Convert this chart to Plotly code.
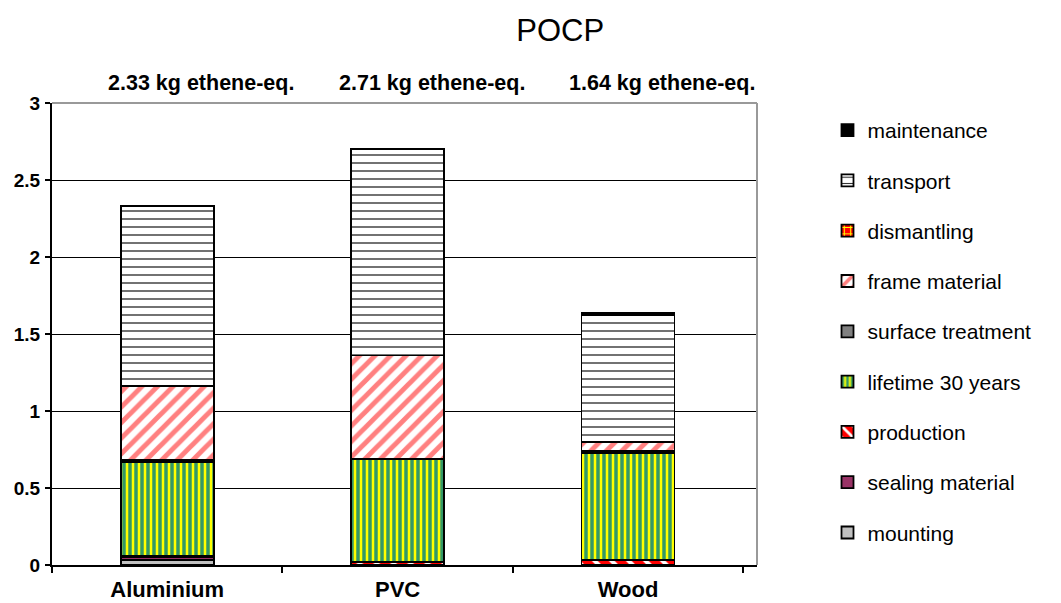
import plotly.graph_objects as go

categories = ["Aluminium", "PVC", "Wood"]
totals_text = ["2.33 kg ethene-eq.", "2.71 kg ethene-eq.", "1.64 kg ethene-eq."]

# stacked from bottom to top
mounting = [0.03, 0.0, 0.0]
sealing_material = [0.02, 0.0, 0.0]
production = [0.01, 0.02, 0.035]
lifetime_30_years = [0.61, 0.67, 0.69]
surface_treatment = [0.01, 0.0, 0.015]
frame_material = [0.48, 0.67, 0.06]
dismantling = [0.0, 0.0, 0.0]
transport = [1.17, 1.34, 0.82]
maintenance = [0.0, 0.005, 0.02]

series = [
    ("mounting", mounting, dict(color="#C0C0C0")),
    ("sealing material", sealing_material, dict(color="#993366")),
    ("production", production, dict(color="#FF0000",
        pattern=dict(shape="\\", fgcolor="#FFFFFF", bgcolor="#FF0000", size=12, solidity=0.35,
                     fillmode="overlay", fgopacity=1))),
    ("lifetime 30 years", lifetime_30_years, dict(color="#339966",
        pattern=dict(shape="|", fgcolor="#FFFF00", bgcolor="#339966", size=6, solidity=0.42,
                     fillmode="overlay", fgopacity=1))),
    ("surface treatment", surface_treatment, dict(color="#808080")),
    ("frame material", frame_material, dict(color="#FFFFFF",
        pattern=dict(shape="/", fgcolor="#FF8080", bgcolor="#FFFFFF", size=11, solidity=0.45,
                     fillmode="overlay", fgopacity=1))),
    ("dismantling", dismantling, dict(color="#FF0000",
        pattern=dict(shape="+", fgcolor="#FFFF00", bgcolor="#FF0000", size=8, solidity=0.3,
                     fillmode="overlay", fgopacity=1))),
    ("transport", transport, dict(color="#FFFFFF",
        pattern=dict(shape="-", fgcolor="#222222", bgcolor="#FFFFFF", size=8, solidity=0.16,
                     fillmode="overlay", fgopacity=1))),
    ("maintenance", maintenance, dict(color="#000000")),
]

fig = go.Figure()
n = len(series)
for i, (name, vals, mk) in enumerate(series):
    mk = dict(mk)
    mk["line"] = dict(color="#000000", width=1.8)
    fig.add_trace(go.Bar(
        name=name, x=categories, y=vals, marker=mk,
        legendgroup=name, legendrank=100 + (n - i), hoverinfo="x+y+name",
    ))

for cat, txt in zip(categories, totals_text):
    fig.add_annotation(x=cat, y=1.043, xref="x", yref="paper", text="<b>%s</b>" % txt,
                       showarrow=False, xshift=34, yanchor="middle",
                       font=dict(family="Liberation Sans Narrow, Liberation Sans, Arial", size=21.5, color="#000"))

fig.add_shape(type="line", xref="paper", yref="paper", x0=0, x1=1, y0=1, y1=1,
              line=dict(color="#999999", width=2))
fig.add_shape(type="line", xref="paper", yref="paper", x0=1, x1=1, y0=0, y1=1,
              line=dict(color="#999999", width=2))

fig.update_layout(
    width=1061, height=603,
    margin=dict(l=52, r=304, t=103, b=38),
    paper_bgcolor="#FFFFFF", plot_bgcolor="#FFFFFF",
    barmode="stack", bargap=0.596,
    font=dict(family="Liberation Sans, Arial", color="#000000"),
    title=dict(text="POCP", x=0.528, xanchor="center", y=0.95, yanchor="middle", yref="container",
               font=dict(size=31, family="Liberation Sans, Arial", color="#000")),
    xaxis=dict(showline=True, linecolor="#000000", linewidth=2, ticks="outside", tickson="boundaries",
               ticklen=6, tickcolor="#000", tickwidth=1.5, automargin=False, ticklabelstandoff=4,
               tickfont=dict(size=22, family="Liberation Sans, Arial", color="#000"),
               tickprefix="<b>", ticksuffix="</b>", showgrid=False),
    yaxis=dict(range=[0, 3], dtick=0.5, showline=True, linecolor="#000000", linewidth=2,
               ticks="outside", ticklen=5, tickcolor="#000", tickwidth=1.5, automargin=False,
               showgrid=True, gridcolor="#000000", gridwidth=1.2, zeroline=False,
               tickfont=dict(size=19, family="Liberation Sans, Arial", color="#000"),
               tickprefix="<b>", ticksuffix="</b>", ticklabelstandoff=1),
    legend=dict(x=1.1, xanchor="left", y=0.985, yanchor="top", traceorder="grouped",
                tracegroupgap=20, font=dict(size=21, family="Liberation Sans, Arial", color="#000"),
                itemclick=False),
    showlegend=True,
)

fig.write_html("out.html")
